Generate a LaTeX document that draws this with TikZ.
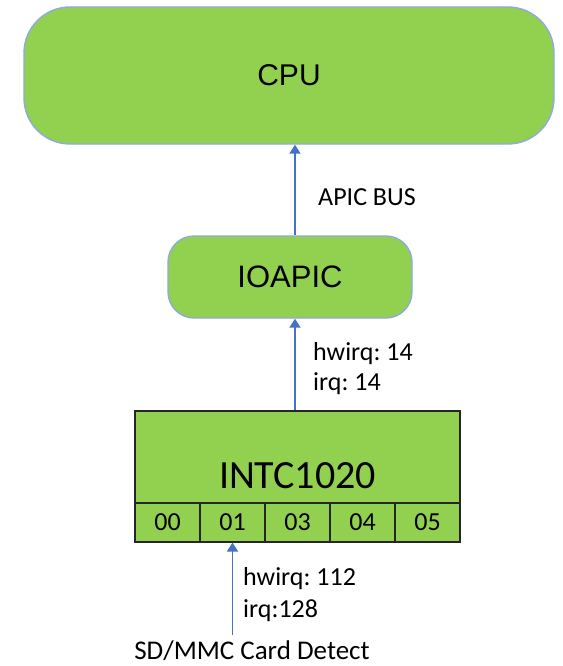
\documentclass[tikz,border=0pt]{standalone}
\usepackage{fontspec}
\setmainfont{Carlito}
\newfontfamily\arialfont{Liberation Sans}
\usetikzlibrary{arrows.meta}
\definecolor{boxgreen}{HTML}{92D050}
\definecolor{edgeblue}{HTML}{8FAADC}
\definecolor{wireblue}{HTML}{4472C4}
\frenchspacing
\tikzset{
  roundbox/.style={draw=edgeblue, line width=1.4pt, fill=boxgreen, inner sep=0pt},
  chipbox/.style={draw=black!85, line width=1.1pt, fill=boxgreen, inner sep=0pt},
  cellbox/.style={draw=black!85, line width=1.1pt, fill=boxgreen, inner sep=0pt,
    minimum width=65pt, minimum height=39pt, font=\fontsize{26}{31}\selectfont},
  wire/.style={draw=wireblue, line width=1.8pt, -{Triangle[length=9pt,width=11pt]}},
  note/.style={inner sep=0pt, anchor=base west, font=\fontsize{26}{31}\selectfont}
}
\begin{document}
\begin{tikzpicture}[x=1pt,y=-1pt]
\useasboundingbox (0,0) rectangle (562,666);

% processor and I/O APIC
\node[roundbox, rounded corners=46pt, minimum width=530pt, minimum height=137pt,
  font=\arialfont\fontsize{30}{36}\selectfont]
  (cpu) at (289,75.5) {CPU};
\node[roundbox, rounded corners=26pt, minimum width=244pt, minimum height=82pt,
  font=\arialfont\fontsize{31}{37}\selectfont]
  (ioapic) at (290,277) {IOAPIC};

% GPIO controller with its pin row
\node[chipbox, minimum width=325pt, minimum height=131pt] (intc) at (297.5,476.5) {};
\node[inner sep=0pt, anchor=base, font=\fontsize{40}{48}\selectfont]
  (intcname) at (297.5,488) {INTC1020};
\foreach \n/\lbl [count=\i from 0] in {c0/00,c1/01,c3/03,c4/04,c5/05}
  \node[cellbox] (\n) at (167.5+65*\i,522.5) {\lbl};

% interrupt routing
\coordinate (busx) at (295,0);
\coordinate (src) at (232.5,635);
\draw[wire] (intc.north -| busx) -- (ioapic.south -| busx);
\draw[wire] (ioapic.north -| busx) -- (cpu.south -| busx);
\draw[wire] (src) -- (c1.south);

% labels
\node[note] (bus) at (318,205) {APIC BUS};
\node[note] (hw1) at (313,360) {hwirq: 14};
\node[note] (irq1) at (313,390) {irq: 14};
\node[note] (hw2) at (243,585) {hwirq: 112};
\node[note] (irq2) at (243,617) {irq:128};
\node[inner sep=0pt, anchor=base, font=\fontsize{27}{32}\selectfont]
  (sd) at (252,659) {SD/MMC Card Detect};
\end{tikzpicture}
\end{document}
